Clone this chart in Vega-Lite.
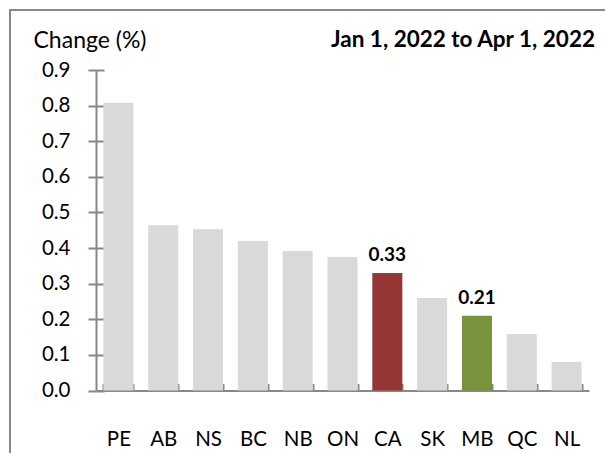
{
  "$schema": "https://vega.github.io/schema/vega-lite/v6.json",
  "width": 600,
  "height": 450,
  "autosize": {"type": "none"},
  "padding": {"left": 10, "top": 10, "right": 0, "bottom": 0},
  "background": "white",
  "title": {
    "text": "Jan 1, 2022 to Apr 1, 2022",
    "anchor": "end",
    "frame": "group",
    "font": "Lato",
    "fontSize": 22.5,
    "fontWeight": "bold",
    "color": "black",
    "dx": -15,
    "dy": 45
  },
  "config": {
    "view": {"stroke": "#888888", "strokeWidth": 2},
    "font": "Lato"
  },
  "data": {
    "values": [
      {"region": "PE", "value": 0.808, "group": "other", "label": ""},
      {"region": "AB", "value": 0.464, "group": "other", "label": ""},
      {"region": "NS", "value": 0.453, "group": "other", "label": ""},
      {"region": "BC", "value": 0.42, "group": "other", "label": ""},
      {"region": "NB", "value": 0.392, "group": "other", "label": ""},
      {"region": "ON", "value": 0.375, "group": "other", "label": ""},
      {"region": "CA", "value": 0.33, "group": "CA", "label": "0.33"},
      {"region": "SK", "value": 0.26, "group": "other", "label": ""},
      {"region": "MB", "value": 0.21, "group": "MB", "label": "0.21"},
      {"region": "QC", "value": 0.159, "group": "other", "label": ""},
      {"region": "NL", "value": 0.08, "group": "other", "label": ""}
    ]
  },
  "encoding": {
    "x": {
      "field": "region",
      "type": "nominal",
      "sort": null,
      "scale": {"range": [86, 579], "paddingInner": 0.33, "paddingOuter": 0.165},
      "axis": {
        "title": null,
        "offset": -69.5,
        "labelAngle": 0,
        "labelFont": "Lato",
        "labelFontSize": 20.5,
        "labelColor": "black",
        "labelPadding": 46,
        "tickBand": "extent",
        "tickSize": -7,
        "tickColor": "#888888",
        "tickWidth": 2,
        "domainColor": "#888888",
        "domainWidth": 2
      }
    }
  },
  "layer": [
    {
      "mark": {"type": "bar"},
      "encoding": {
        "y": {
          "field": "value",
          "type": "quantitative",
          "scale": {"domain": [0, 0.9], "range": [380.5, 60], "nice": false, "zero": true},
          "axis": {
            "orient": "left",
            "title": "Change (%)",
            "titleAngle": 0,
            "titleAlign": "left",
            "titleBaseline": "middle",
            "titleX": -63,
            "titleY": 30,
            "titleFont": "Lato",
            "titleFontSize": 23,
            "titleFontWeight": "normal",
            "titleColor": "black",
            "offset": -86,
            "values": [0, 0.1, 0.2, 0.3, 0.4, 0.5, 0.6, 0.7, 0.8, 0.9],
            "format": ".1f",
            "labelFont": "Lato",
            "labelFontSize": 20.5,
            "labelColor": "black",
            "labelPadding": 18,
            "tickSize": 8,
            "tickColor": "#888888",
            "tickWidth": 2,
            "domainColor": "#888888",
            "domainWidth": 2,
            "grid": false
          }
        },
        "color": {
          "field": "group",
          "type": "nominal",
          "scale": {"domain": ["other", "CA", "MB"], "range": ["#D9D9D9", "#953735", "#77933C"]},
          "legend": null
        }
      }
    },
    {
      "mark": {"type": "text", "baseline": "bottom", "dy": -8, "font": "Lato", "fontSize": 19, "fontWeight": "bold", "color": "black"},
      "encoding": {
        "y": {
          "field": "value",
          "type": "quantitative",
          "axis": {
            "orient": "left",
            "title": null,
            "offset": -86,
            "values": [0, 0.1, 0.2, 0.3, 0.4, 0.5, 0.6, 0.7, 0.8, 0.9],
            "labels": false,
            "domain": false,
            "tickSize": -8,
            "tickColor": "#888888",
            "tickWidth": 2,
            "grid": false
          }
        },
        "text": {"field": "label"}
      }
    }
  ],
  "resolve": {"axis": {"y": "independent"}}
}
